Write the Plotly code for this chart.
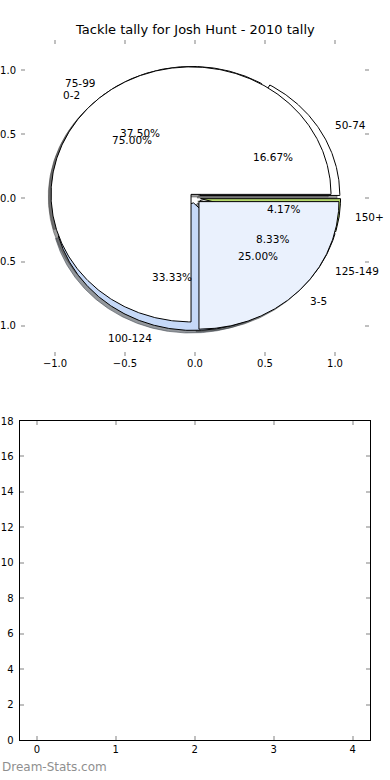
import numpy as np
import plotly.graph_objects as go

# ---------------- data ----------------
chart_title = "Tackle tally for Josh Hunt - 2010 tally"

# first pie drawn (tackle ranges)
pie_a_labels = ["50-74", "75-99", "100-124", "125-149", "150+"]
pie_a_values = [4, 9, 8, 2, 1]
pie_a_colors = ["#ffffff", "#ffffff", "#c6d9f8", "#dde7f7", "#b5d86a"]

# second pie drawn on top
pie_b_labels = ["0-2", "3-5"]
pie_b_values = [3, 1]
pie_b_colors = ["#ffffff", "#eaf1fd"]

pie_x_ticks = [-1.0, -0.5, 0.0, 0.5, 1.0]
pie_x_ticktext = ["\u22121.0", "\u22120.5", "0.0", "0.5", "1.0"]
pie_y_ticks = [-1.0, -0.5, 0.0, 0.5, 1.0]
pie_y_ticktext = ["\u22121.0", "\u22120.5", "0.0", "0.5", "1.0"]

bar_x_ticks = [0, 1, 2, 3, 4]
bar_y_ticks = [0, 2, 4, 6, 8, 10, 12, 14, 16, 18]

watermark = "Dream-Stats.com"

# ---------------- style ----------------
EXPLODE = 0.04
SHADOW = (-0.02, -0.02)
LABEL_DIST = 1.1
PCT_DIST = 0.6
FONT = "DejaVu Sans"


def wedges(values):
    total = float(sum(values))
    out = []
    t1 = 0.0
    for v in values:
        t2 = t1 + 360.0 * v / total
        tm = np.radians((t1 + t2) / 2)
        cx = EXPLODE * np.cos(tm)
        cy = EXPLODE * np.sin(tm)
        out.append((cx, cy, t1, t2, tm, 100.0 * v / total))
        t1 = t2
    return out


def wedge_path(cx, cy, t1, t2, dx=0.0, dy=0.0):
    n = max(int(abs(t2 - t1)) * 2, 4)
    th = np.radians(np.linspace(t1, t2, n))
    xs = np.concatenate([[cx], cx + np.cos(th), [cx]]) + dx
    ys = np.concatenate([[cy], cy + np.sin(th), [cy]]) + dy
    return xs, ys


def shadow_color(hexcol):
    h = hexcol.lstrip("#")
    r, g, b = (int(h[i:i + 2], 16) for i in (0, 2, 4))
    return "rgba(%d,%d,%d,0.55)" % (r * 0.3, g * 0.3, b * 0.3)


fig = go.Figure()
pies = [
    (pie_a_labels, pie_a_values, pie_a_colors),
    (pie_b_labels, pie_b_values, pie_b_colors),
]
geo = [wedges(p[1]) for p in pies]

# shadows (below all wedges)
for (labels, values, colors), ws in zip(pies, geo):
    for (cx, cy, t1, t2, tm, pct), col in zip(ws, colors):
        xs, ys = wedge_path(cx, cy, t1, t2, *SHADOW)
        sc = shadow_color(col)
        fig.add_trace(go.Scatter(x=xs, y=ys, mode="lines", fill="toself",
                                 fillcolor=sc, line=dict(color=sc, width=1),
                                 hoverinfo="skip", showlegend=False,
                                 xaxis="x", yaxis="y"))

# wedges
annotations = []
for (labels, values, colors), ws in zip(pies, geo):
    for (cx, cy, t1, t2, tm, pct), col, lab in zip(ws, colors, labels):
        xs, ys = wedge_path(cx, cy, t1, t2)
        fig.add_trace(go.Scatter(x=xs, y=ys, mode="lines", fill="toself",
                                 fillcolor=col, line=dict(color="black", width=1),
                                 hoverinfo="skip", showlegend=False,
                                 xaxis="x", yaxis="y"))
for (labels, values, colors), ws in zip(pies, geo):
    for (cx, cy, t1, t2, tm, pct), lab in zip(ws, labels):
        lx = cx + LABEL_DIST * np.cos(tm)
        ly = cy + LABEL_DIST * np.sin(tm)
        annotations.append(dict(x=lx, y=ly, xref="x", yref="y", text=lab,
                                showarrow=False,
                                xanchor="left" if lx > 0 else "right",
                                yanchor="middle",
                                font=dict(family=FONT, size=10.5, color="black")))
        px = cx + PCT_DIST * np.cos(tm)
        py = cy + PCT_DIST * np.sin(tm)
        annotations.append(dict(x=px, y=py, xref="x", yref="y",
                                text="%.2f%%" % pct, showarrow=False,
                                xanchor="center", yanchor="middle",
                                font=dict(family=FONT, size=10.5, color="black")))

# empty lower axes
fig.add_trace(go.Scatter(x=[], y=[], xaxis="x2", yaxis="y2",
                         showlegend=False, hoverinfo="skip"))

annotations.append(dict(text=chart_title, x=0.5, y=1 - 30 / 780, xref="paper",
                        yref="paper", showarrow=False, xanchor="center",
                        yanchor="middle",
                        font=dict(family=FONT, size=13, color="black")))
annotations.append(dict(text=watermark, x=0.0, y=1 - 767 / 780, xref="paper",
                        yref="paper", showarrow=False, xanchor="left",
                        yanchor="middle",
                        font=dict(family=FONT, size=12, color="#8f8f8f")))

tickfont = dict(family=FONT, size=10, color="black")
common_ticks = dict(ticks="inside", ticklen=4, tickwidth=1.5, tickcolor="#c0c0c0",
                    showgrid=False, zeroline=False, tickfont=tickfont,
                    automargin=False)

fig.update_layout(
    width=390, height=780, autosize=False,
    margin=dict(l=0, r=0, t=0, b=0, pad=0, autoexpand=False),
    paper_bgcolor="white", plot_bgcolor="white",
    showlegend=False,
    xaxis=dict(domain=[21 / 390, 369 / 390], range=[-1.243, 1.243],
               tickvals=pie_x_ticks, ticktext=pie_x_ticktext,
               showline=False, mirror="ticks", anchor="y", **common_ticks),
    yaxis=dict(domain=[1 - 356 / 780, 1 - 40 / 780], range=[-1.239, 1.239],
               tickvals=pie_y_ticks, ticktext=pie_y_ticktext,
               showline=False, mirror="ticks", anchor="x",
               ticklabelstandoff=4, **common_ticks),
    xaxis2=dict(domain=[19.5 / 390, 370 / 390], range=[-0.22, 4.22],
                tickvals=bar_x_ticks, showline=True, linecolor="black",
                linewidth=1, mirror="ticks", anchor="y2", **common_ticks),
    yaxis2=dict(domain=[1 - 740.3 / 780, 1 - 421 / 780], range=[0, 18],
                tickvals=bar_y_ticks, showline=True, linecolor="black",
                linewidth=1, mirror="ticks", anchor="x2",
                ticklabelstandoff=3, **common_ticks),
    annotations=annotations,
)

reset_js = (
    "document.documentElement.style.margin='0';"
    "document.body.style.margin='0';"
    "document.body.style.padding='0';"
)

fig.write_html("out.html", include_plotlyjs=True,
               config={"displayModeBar": False},
               post_script=reset_js)
